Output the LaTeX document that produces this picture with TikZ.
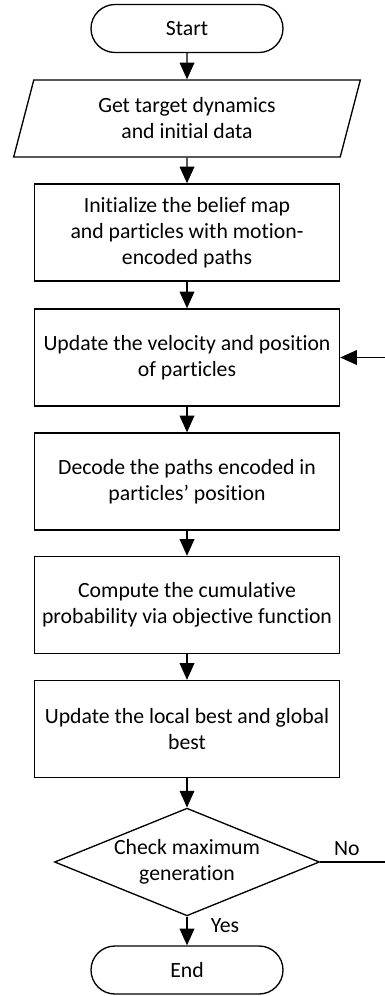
\documentclass[tikz,border=0pt]{standalone}
\usepackage{fontspec}
\setmainfont{Carlito}[RawFeature=-liga]
\usetikzlibrary{arrows.meta,shapes.geometric,shapes.misc}
\tikzset{
  term/.style={draw,line width=1pt,rounded rectangle,minimum width=144pt,minimum height=36pt,inner sep=0pt},
  proc/.style={draw,line width=1pt,rectangle,minimum width=228.75pt,minimum height=72.75pt,inner sep=0pt,align=center},
  io/.style={draw,line width=1pt,trapezium,trapezium left angle=64,trapezium right angle=116,trapezium stretches body,minimum width=260pt,minimum height=57.75pt,inner sep=0pt,align=center},
  dec/.style={draw,line width=1pt,diamond,aspect=2.32,minimum width=198.75pt,inner sep=0pt,align=center},
  flow/.style={line width=1pt,-{Triangle[width=11pt,length=12.5pt]}}
}
\begin{document}
\begin{tikzpicture}[x=0.75pt,y=-0.75pt,font=\fontsize{16.3}{19.5}\selectfont]
\useasboundingbox (0,0) rectangle (385,996);
\node[term] (start) at (187,28.5) {Start};
\node[io] (data) at (187,118.5) {Get target dynamics\\and initial data};
\node[proc] (init) at (187,232.5) {Initialize the belief map\\and particles with motion-\\encoded paths};
\node[proc] (upd) at (187,357.5) {Update the velocity and position\\of particles};
\node[proc] (decode) at (187,481.5) {Decode the paths encoded in\\particles’ position};
\node[proc] (comp) at (187,605) {Compute the cumulative\\probability via objective function};
\node[proc] (best) at (187,729) {Update the local best and global\\best};
\node[dec] (check) at (187,862) {Check maximum\\generation};
\node[term] (end) at (187,970) {End};
\coordinate (back) at (392,862);
\draw[flow] (start) -- (data);
\draw[flow] (data) -- (init);
\draw[flow] (init) -- (upd);
\draw[flow] (upd) -- (decode);
\draw[flow] (decode) -- (comp);
\draw[flow] (comp) -- (best);
\draw[flow] (best) -- (check);
\draw[flow] (check) -- node[pos=0.3,right=14pt] (yes) {Yes} (end);
\draw[flow] (check.east) -- node[pos=0.37,above=1pt] (no) {No} (back) |- (upd.east);
\end{tikzpicture}
\end{document}
